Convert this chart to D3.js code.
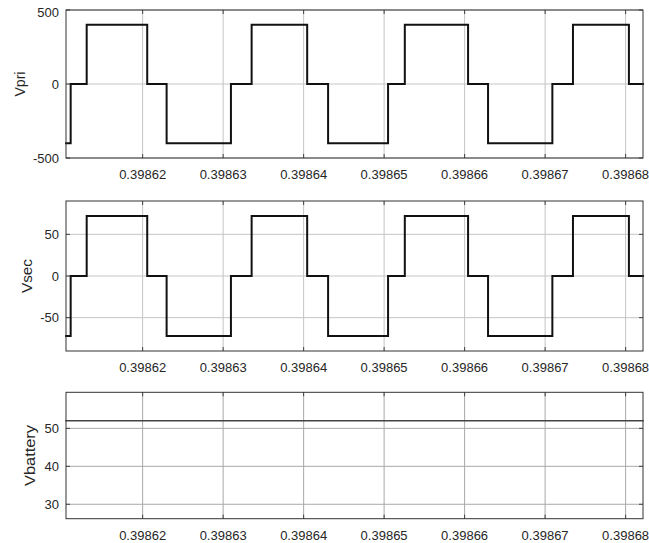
<!DOCTYPE html>
<html>
<head>
<meta charset="utf-8">
<script src="https://cdn.jsdelivr.net/npm/d3@7"></script>
<style>
  html, body { margin: 0; padding: 0; background: #fff; }
  svg { display: block; }
  text { font-family: "Liberation Sans", Arial, sans-serif; fill: #262626; }
</style>
</head>
<body>
<svg id="chart" width="649" height="543"></svg>
<script>
// ---- data ----
const timeDomain = [0.39861048, 0.39868216];
const xTickValues = [0.39862, 0.39863, 0.39864, 0.39865, 0.39866, 0.39867, 0.39868];
// switching instants (edges of each constant segment)
const edgeTimes = [0.39861048, 0.39861106, 0.39861305, 0.39862057, 0.39862298,
                   0.39863097, 0.39863354, 0.39864044, 0.39864304, 0.39865049,
                   0.39865257, 0.39866043, 0.39866291, 0.39867090, 0.39867346,
                   0.39868041, 0.39868216];
// level of each segment between consecutive edges
const vpriLevels = [-400, 0, 400, 0, -400, 0, 400, 0, -400, 0, 400, 0, -400, 0, 400, 0];
const vsecLevels = [-72, 0, 72, 0, -72, 0, 72, 0, -72, 0, 72, 0, -72, 0, 72, 0];
const vbatteryLevels = [52, 52, 52, 52, 52, 52, 52, 52, 52, 52, 52, 52, 52, 52, 52, 52];

const panelNames = ["Vpri", "Vsec", "Vbattery"];
const yDomains = [[-500, 500], [-90, 90], [26.2, 59.5]];
const yTickValues = [[-500, 0, 500], [-50, 0, 50], [30, 40, 50]];

// ---- layout ----
const svg = d3.select("#chart");
const left = 66, right = 643;
const panels = [
  { top: 10, bottom: 158, labelX: 20, labelLen: 25, levels: vpriLevels, lineColor: "#111", lineWidth: 2, gridColor: "#c4c4c4" },
  { top: 201, bottom: 351, labelX: 27, labelLen: 34, levels: vsecLevels, lineColor: "#111", lineWidth: 2, gridColor: "#c4c4c4" },
  { top: 392.3, bottom: 518.7, labelX: 30.5, labelLen: 61, levels: vbatteryLevels, lineColor: "#444", lineWidth: 1.4, gridColor: "#a8a8a8" }
];

const x = d3.scaleLinear().domain(timeDomain).range([left, right]);
const fmt = d3.format(".5f");

panels.forEach((p, i) => {
  const y = d3.scaleLinear().domain(yDomains[i]).range([p.bottom, p.top]);
  const g = svg.append("g");

  // grid
  g.selectAll(".vg").data(xTickValues).join("line")
    .attr("x1", d => x(d)).attr("x2", d => x(d))
    .attr("y1", p.top).attr("y2", p.bottom)
    .attr("stroke", p.gridColor).attr("stroke-width", 1);
  g.selectAll(".hg").data(yTickValues[i]).join("line")
    .attr("x1", left).attr("x2", right)
    .attr("y1", d => y(d)).attr("y2", d => y(d))
    .attr("stroke", p.gridColor).attr("stroke-width", 1);

  // inward ticks on all four sides
  const tl = 4;
  const tc = "#404040";
  g.selectAll(".tb").data(xTickValues).join("line")
    .attr("x1", d => x(d)).attr("x2", d => x(d))
    .attr("y1", p.bottom).attr("y2", p.bottom - tl).attr("stroke", tc);
  g.selectAll(".tt").data(xTickValues).join("line")
    .attr("x1", d => x(d)).attr("x2", d => x(d))
    .attr("y1", p.top).attr("y2", p.top + tl).attr("stroke", tc);
  g.selectAll(".tlft").data(yTickValues[i]).join("line")
    .attr("x1", left).attr("x2", left + tl)
    .attr("y1", d => y(d)).attr("y2", d => y(d)).attr("stroke", tc);
  g.selectAll(".trt").data(yTickValues[i]).join("line")
    .attr("x1", right).attr("x2", right - tl)
    .attr("y1", d => y(d)).attr("y2", d => y(d)).attr("stroke", tc);

  // data line (step)
  const pts = p.levels.map((v, k) => [edgeTimes[k], v]);
  pts.push([edgeTimes[edgeTimes.length - 1], p.levels[p.levels.length - 1]]);
  const line = d3.line().x(d => x(d[0])).y(d => y(d[1])).curve(d3.curveStepAfter);
  g.append("path").datum(pts)
    .attr("d", line)
    .attr("fill", "none")
    .attr("stroke", p.lineColor)
    .attr("stroke-width", p.lineWidth)
    .attr("stroke-linejoin", "miter")
    .attr("stroke-linecap", "square");

  // box
  g.append("rect")
    .attr("x", left).attr("y", p.top)
    .attr("width", right - left).attr("height", p.bottom - p.top)
    .attr("fill", "none").attr("stroke", "#333").attr("stroke-width", 1);

  // x tick labels
  g.selectAll(".xl").data(xTickValues).join("text")
    .attr("x", d => x(d)).attr("y", p.bottom + 16.5)
    .attr("dy", "0.35em")
    .attr("text-anchor", "middle")
    .attr("font-size", 13)
    .text(d => fmt(d));

  // y tick labels
  g.selectAll(".yl").data(yTickValues[i]).join("text")
    .attr("x", left - 7)
    .attr("y", d => Math.max(y(d), p.top + 2.5))
    .attr("dy", "0.35em")
    .attr("text-anchor", "end")
    .attr("font-size", 13)
    .text(d => d);

  // y axis label
  g.append("text")
    .attr("transform", `translate(${p.labelX},${(p.top + p.bottom) / 2}) rotate(-90)`)
    .attr("dy", "0.35em")
    .attr("text-anchor", "middle")
    .attr("font-size", 14)
    .attr("textLength", p.labelLen)
    .attr("lengthAdjust", "spacingAndGlyphs")
    .text(panelNames[i]);
});
</script>
</body>
</html>
